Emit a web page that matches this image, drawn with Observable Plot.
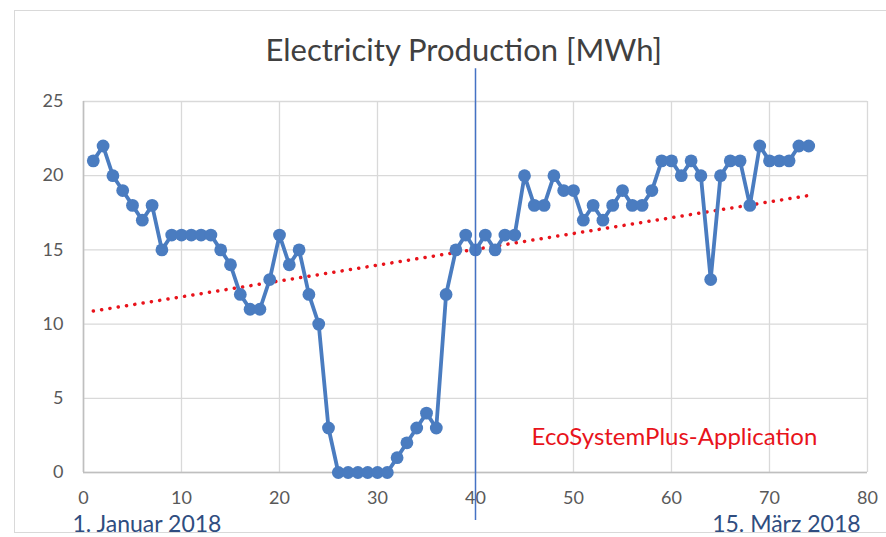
<!DOCTYPE html>
<html>
<head>
<meta charset="utf-8">
<script src="https://cdn.jsdelivr.net/npm/d3@7"></script>
<script src="https://cdn.jsdelivr.net/npm/@observablehq/plot@0.6"></script>
<style>
  html, body { margin: 0; padding: 0; background: #fff; }
  #wrap { position: relative; width: 886px; height: 537px; overflow: hidden; }
  #frame { position: absolute; left: 14px; top: 10px; width: 880px; height: 523px; border: 1.5px solid #d9d9d9; box-sizing: border-box; }
  #chart { position: absolute; left: 0; top: 0; }
</style>
</head>
<body>
<div id="wrap"><div id="frame"></div><div id="chart"></div></div>
<script>
const title = "Electricity Production [MWh]";
const days = d3.range(1, 75);
const production = [21, 22, 20, 19, 18, 17, 18, 15, 16, 16, 16, 16, 16, 15, 14, 12, 11, 11, 13, 16,
  14, 15, 12, 10, 3, 0, 0, 0, 0, 0, 0, 1, 2, 3, 4, 3, 12, 15, 16, 15,
  16, 15, 16, 16, 20, 18, 18, 20, 19, 19, 17, 18, 17, 18, 19, 18, 18, 19, 21, 21,
  20, 21, 20, 13, 20, 21, 21, 18, 22, 21, 21, 21, 22, 22];
const xTicks = [0, 10, 20, 30, 40, 50, 60, 70, 80];
const yTicks = [0, 5, 10, 15, 20, 25];
const markerDay = [40];
const startLabel = "1. Januar 2018";
const endLabel = "15. März 2018";
const annotation = "EcoSystemPlus-Application";

const data = days.map((d, i) => ({day: d, value: production[i]}));
const font = "Lato, 'Open Sans', sans-serif";

const chart = Plot.plot({
  width: 886,
  height: 537,
  marginLeft: 83,
  marginRight: 19,
  marginTop: 101,
  marginBottom: 65,
  style: {fontFamily: font, fontSize: "18px", color: "#595959", background: "transparent", overflow: "visible"},
  x: {domain: [0, 80], ticks: xTicks, tickSize: 0, tickPadding: 19, label: null},
  y: {domain: [0, 25], ticks: yTicks, tickSize: 0, tickPadding: 20, label: null},
  marks: [
    Plot.gridX(xTicks, {stroke: "#d9d9d9", strokeOpacity: 1, strokeWidth: 1.3}),
    Plot.gridY(yTicks, {stroke: "#d9d9d9", strokeOpacity: 1, strokeWidth: 1.3}),
    Plot.ruleX([0], {stroke: "#bfbfbf", strokeWidth: 1.6}),
    Plot.ruleY([0], {stroke: "#bfbfbf", strokeWidth: 1.6}),
    Plot.linearRegressionY(data, {x: "day", y: "value", stroke: "#e8131b", strokeWidth: 3.5, strokeDasharray: "0.1 8.3", strokeLinecap: "round", ci: 0}),
    Plot.line(data, {x: "day", y: "value", stroke: "#4a7cc0", strokeWidth: 3.8}),
    Plot.dot(data, {x: "day", y: "value", r: 6.4, fill: "#4a7cc0", stroke: "none"}),
    Plot.ruleX(markerDay, {y1: -3.23, y2: 27.2, stroke: "#4472c4", strokeWidth: 1.5, clip: false}),
    Plot.text([annotation], {x: 60.3, y: 2.35, text: d => d, fill: "#e8131b", fontSize: 24, fontFamily: font}),
    Plot.text([title], {x: 38.8, y: 28.4, text: d => d, fill: "#404040", fontSize: 31, fontFamily: font}),
    Plot.text([startLabel], {x: -1.12, y: -3.52, text: d => d, textAnchor: "start", fill: "#2f4d80", fontSize: 23, fontFamily: font}),
    Plot.text([endLabel], {x: 79.3, y: -3.52, text: d => d, textAnchor: "end", fill: "#2f4d80", fontSize: 23, fontFamily: font})
  ]
});
document.getElementById("chart").appendChild(chart);
</script>
</body>
</html>
